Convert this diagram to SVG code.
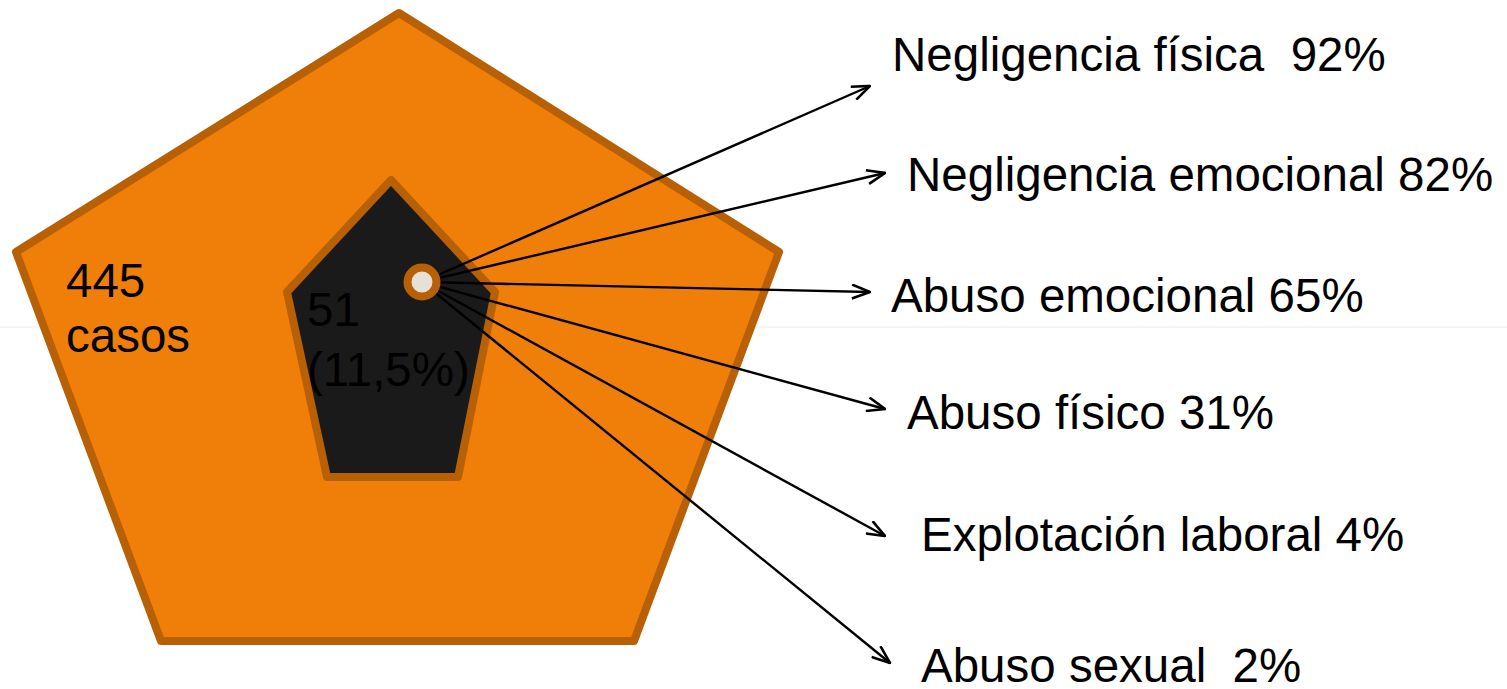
<svg xmlns="http://www.w3.org/2000/svg" width="1507" height="689" viewBox="0 0 1507 689">
<defs>
<style>
.lbl{font-family:"Liberation Sans",Arial,sans-serif;font-size:47.5px;fill:#000;white-space:pre}
.conn line{stroke:#000;stroke-width:2.4;fill:none;marker-end:url(#arr)}
</style>
<marker id="arr" viewBox="0 0 20 16" refX="19" refY="8" markerWidth="20" markerHeight="16" markerUnits="userSpaceOnUse" orient="auto">
<path d="M1,1 L19,8 L1,15" fill="none" stroke="#000" stroke-width="2.6"/>
</marker>
</defs>
<rect width="1507" height="689" fill="#fff"/>
<line x1="0" y1="327" x2="1507" y2="327" stroke="#ececec" stroke-width="1"/>
<g id="outer">
<polygon points="399,13 779,252 634,641 161,641 16,252" fill="#f07f09" stroke="#b86005" stroke-width="8" stroke-linejoin="round"/>
<text class="lbl" x="66" y="297">445</text>
<text class="lbl" x="66" y="352">casos</text>
</g>
<g id="inner">
<polygon points="391,180 495,292 458,477 327,477 287,292" fill="#1a1a1a" stroke="#b86005" stroke-width="8" stroke-linejoin="round"/>
<text class="lbl" x="307" y="326">51</text>
<text class="lbl" x="307" y="386">(11,5%)</text>
</g>
<g class="conn" id="connectors">
<line x1="422" y1="282" x2="870" y2="86"/>
<line x1="422" y1="282" x2="885" y2="173"/>
<line x1="422" y1="282" x2="870" y2="292"/>
<line x1="422" y1="282" x2="885" y2="409"/>
<line x1="422" y1="282" x2="885" y2="536"/>
<line x1="422" y1="282" x2="890" y2="663"/>
</g>
<g id="center">
<circle cx="422" cy="282" r="14.5" fill="#e5e0d8" stroke="#b86005" stroke-width="8"/>
</g>
<g id="l1"><text class="lbl" x="892" y="71">Negligencia física  92%</text></g>
<g id="l2"><text class="lbl" x="907" y="191">Negligencia emocional 82%</text></g>
<g id="l3"><text class="lbl" x="891" y="312">Abuso emocional 65%</text></g>
<g id="l4"><text class="lbl" x="907" y="429">Abuso físico 31%</text></g>
<g id="l5"><text class="lbl" x="921" y="551">Explotación laboral 4%</text></g>
<g id="l6"><text class="lbl" x="921" y="682">Abuso sexual  2%</text></g>
</svg>
